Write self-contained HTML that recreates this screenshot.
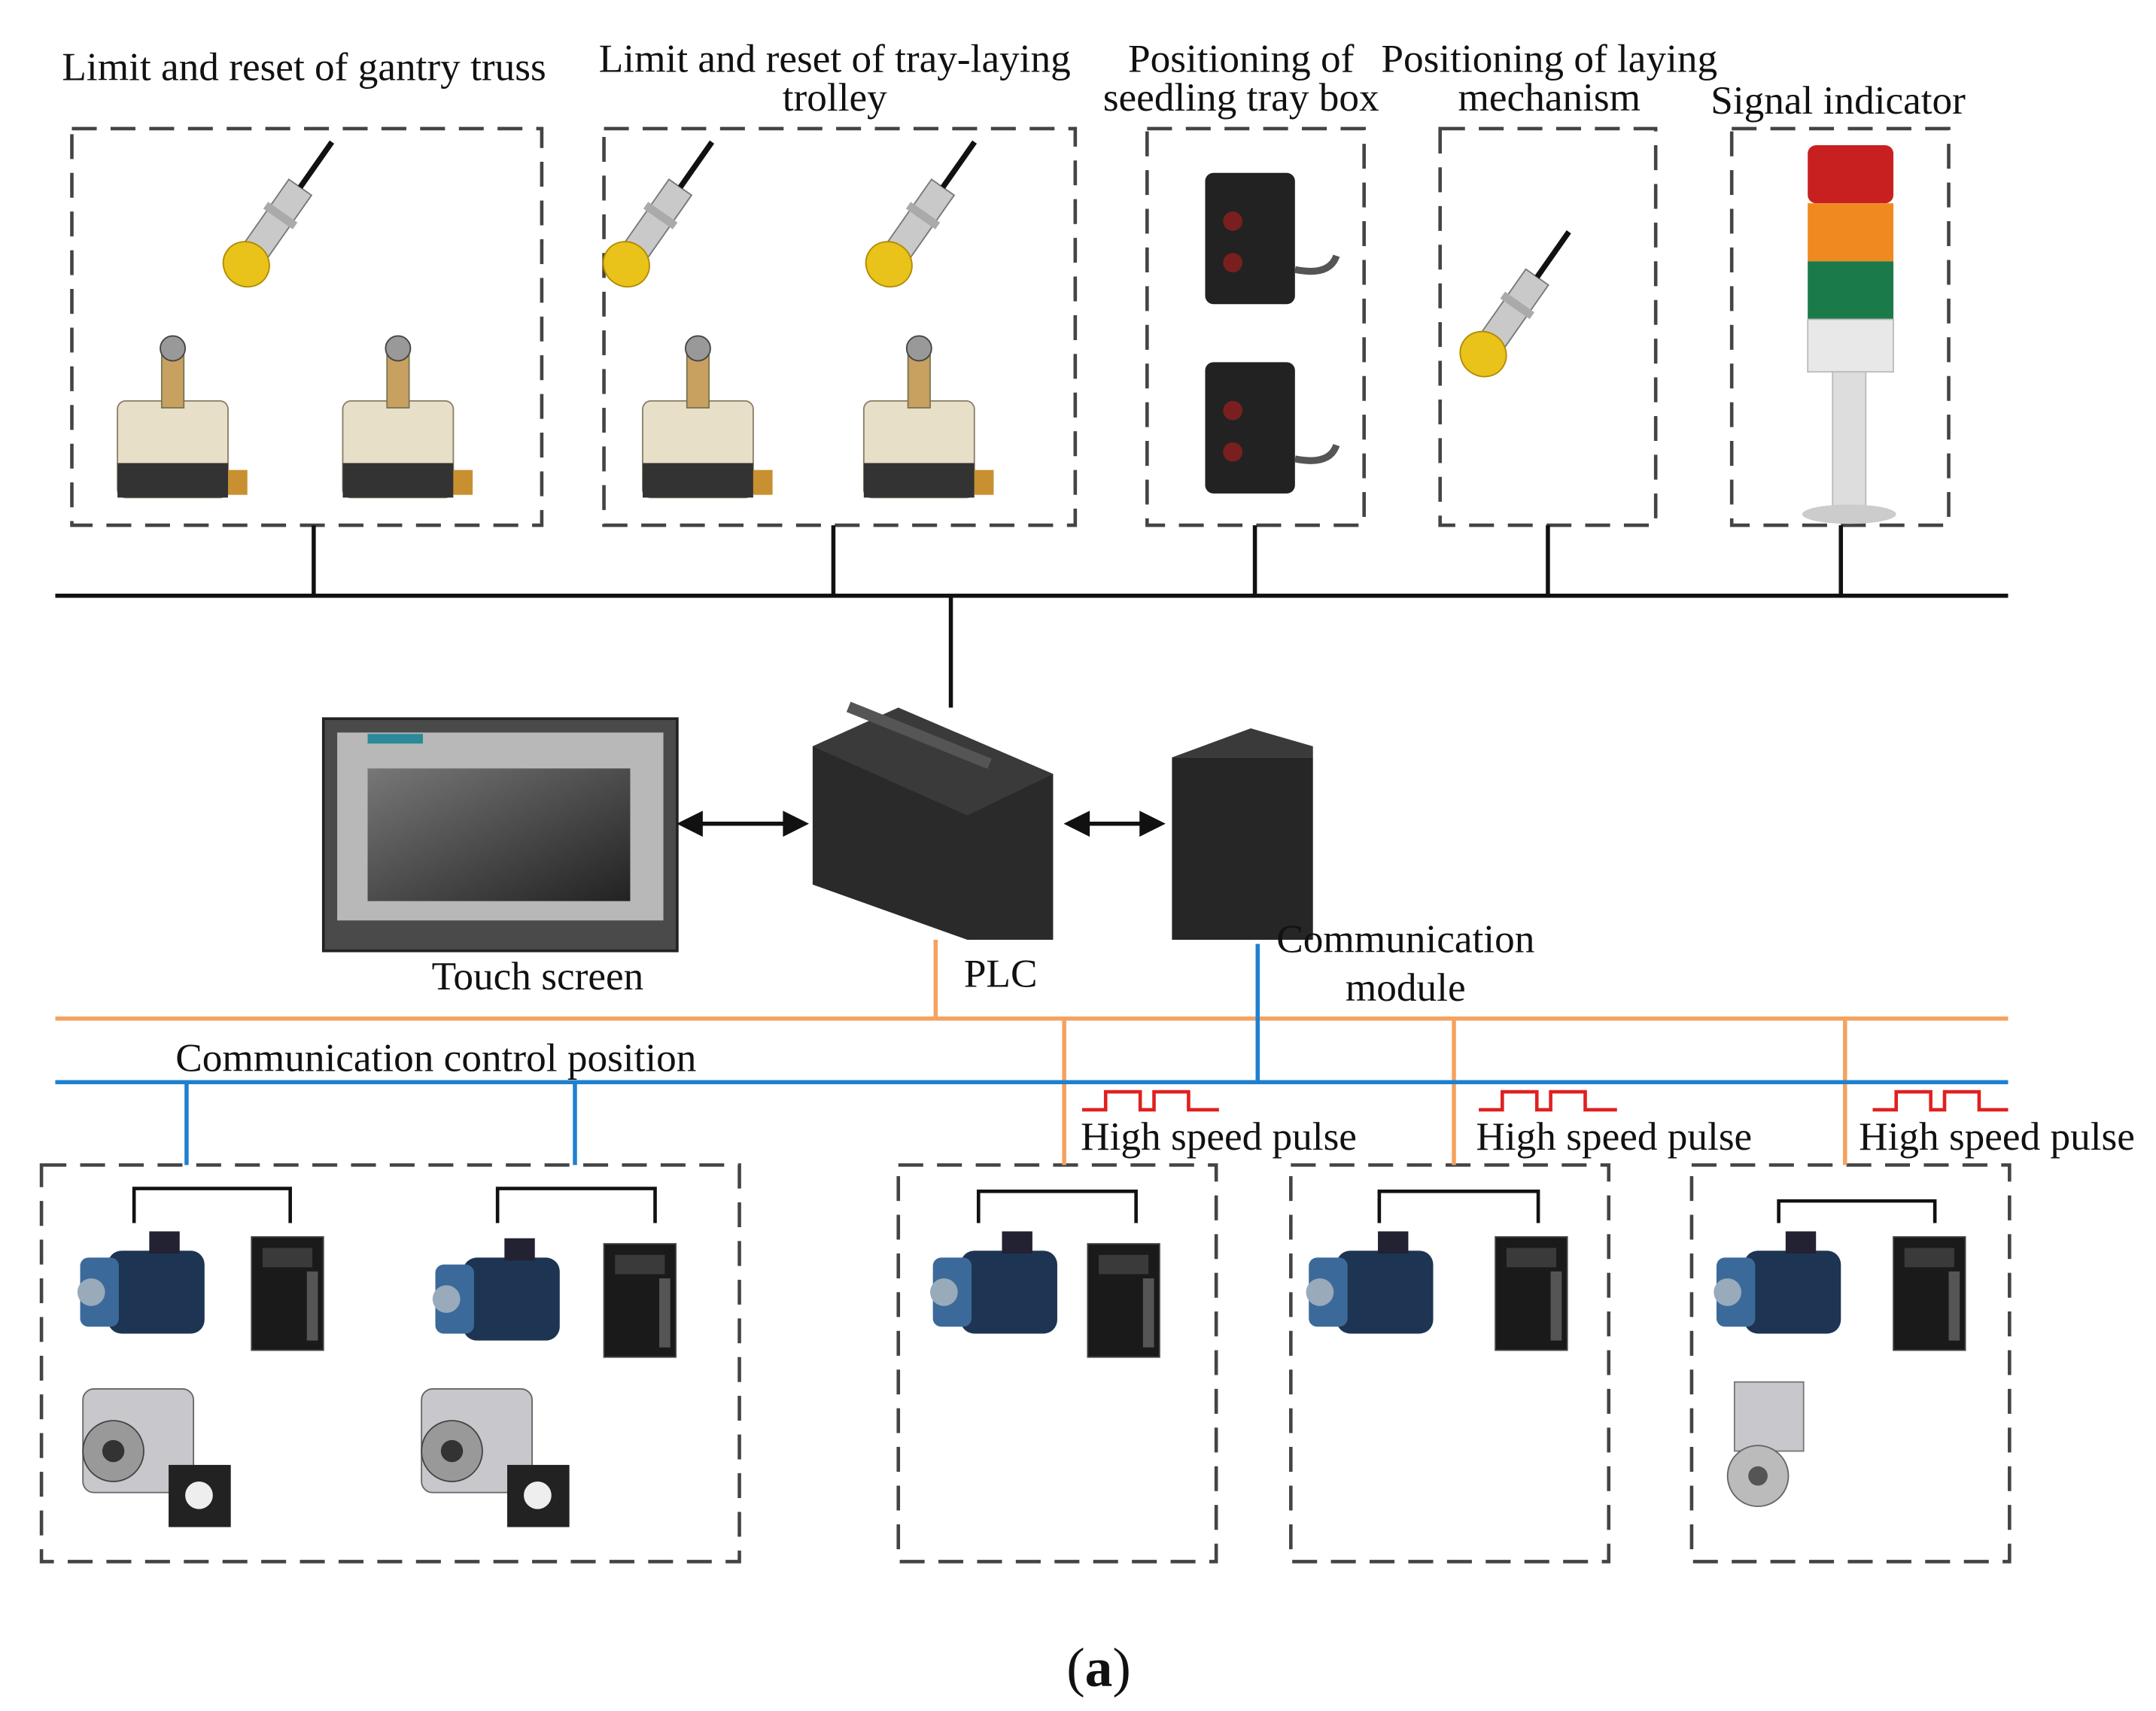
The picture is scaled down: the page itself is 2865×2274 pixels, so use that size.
<!DOCTYPE html>
<html><head><meta charset="utf-8">
<style>
html,body{margin:0;padding:0;background:#fff;}
svg{display:block;}
text{font-family:"Liberation Serif",serif;fill:#111;}
</style></head><body>
<svg width="2865" height="2274" viewBox="0 0 1560 1238" xmlns="http://www.w3.org/2000/svg">
<defs>
<g id="prox">
 <rect x="-10" y="-30" width="20" height="60" fill="#c9c9c9" stroke="#777"/>
 <rect x="-13" y="-8" width="26" height="6" fill="#aaa"/>
 <ellipse cx="0" cy="38" rx="17" ry="16" fill="#e9c21a" stroke="#b08a00"/>
 <line x1="0" y1="-30" x2="0" y2="-70" stroke="#111" stroke-width="4"/>
</g>
<g id="limit">
 <rect x="-40" y="0" width="80" height="70" rx="6" fill="#e8dfc8" stroke="#8a7f66"/>
 <rect x="-40" y="45" width="80" height="25" fill="#333"/>
 <rect x="-8" y="-35" width="16" height="40" fill="#c8a060" stroke="#775"/>
 <circle cx="0" cy="-38" r="9" fill="#999" stroke="#444"/>
 <rect x="40" y="50" width="14" height="18" fill="#c89030"/>
</g>
<g id="photo">
 <rect x="0" y="0" width="65" height="95" rx="6" fill="#222"/>
 <circle cx="20" cy="35" r="7" fill="#7a1f1f"/><circle cx="20" cy="65" r="7" fill="#7a1f1f"/>
 <path d="M65 70 q25 5 30 -10" stroke="#555" stroke-width="5" fill="none"/>
</g>
<g id="motor">
 <rect x="0" y="0" width="70" height="60" rx="10" fill="#1d3552"/>
 <rect x="-20" y="5" width="28" height="50" rx="6" fill="#3b6a9a"/>
 <circle cx="-12" cy="30" r="10" fill="#9ab"/>
 <rect x="30" y="-14" width="22" height="16" fill="#223"/>
</g>
<g id="driver">
 <rect x="0" y="0" width="52" height="82" fill="#1a1a1a" stroke="#444"/>
 <rect x="8" y="8" width="36" height="14" fill="#3a3a3a"/>
 <rect x="40" y="25" width="8" height="50" fill="#555"/>
</g>
<g id="gear">
 <rect x="0" y="0" width="80" height="75" rx="8" fill="#c8c8cc" stroke="#666"/>
 <circle cx="22" cy="45" r="22" fill="#999" stroke="#444"/>
 <circle cx="22" cy="45" r="8" fill="#333"/>
 <rect x="62" y="55" width="45" height="45" fill="#222"/>
 <circle cx="84" cy="77" r="10" fill="#eee"/>
</g>
</defs>

<g font-size="29" text-anchor="middle">
<text x="220" y="58">Limit and reset of gantry truss</text>
<text x="604" y="52">Limit and reset of tray-laying</text>
<text x="604" y="80">trolley</text>
<text x="898" y="52">Positioning of</text>
<text x="898" y="80">seedling tray box</text>
<text x="1121" y="52">Positioning of laying</text>
<text x="1121" y="80">mechanism</text>
<text x="1330" y="82">Signal indicator</text>
</g>

<g fill="none" stroke="#444" stroke-width="2.5" stroke-dasharray="18,10">
<rect x="52" y="93" width="340" height="287"/>
<rect x="437" y="93" width="341" height="287"/>
<rect x="830" y="93" width="157" height="287"/>
<rect x="1042" y="93" width="156" height="287"/>
<rect x="1253" y="93" width="157" height="287"/>
<rect x="30" y="843" width="505" height="287"/>
<rect x="650" y="843" width="230" height="287"/>
<rect x="934" y="843" width="230" height="287"/>
<rect x="1224" y="843" width="230" height="287"/>
</g>

<g transform="translate(200,160) rotate(35)"><use href="#prox"/></g>
<g transform="translate(475,160) rotate(35)"><use href="#prox"/></g>
<g transform="translate(665,160) rotate(35)"><use href="#prox"/></g>
<g transform="translate(1095,225) rotate(35)"><use href="#prox"/></g>
<g transform="translate(125,290)"><use href="#limit"/></g>
<g transform="translate(288,290)"><use href="#limit"/></g>
<g transform="translate(505,290)"><use href="#limit"/></g>
<g transform="translate(665,290)"><use href="#limit"/></g>
<g transform="translate(872,125)"><use href="#photo"/></g>
<g transform="translate(872,262)"><use href="#photo"/></g>
<rect x="1308" y="105" width="62" height="42" rx="6" fill="#c82020"/>
<rect x="1308" y="147" width="62" height="42" fill="#f08a20"/>
<rect x="1308" y="189" width="62" height="42" fill="#1a7a4a"/>
<rect x="1308" y="231" width="62" height="38" fill="#e8e8e8" stroke="#bbb"/>
<rect x="1326" y="269" width="24" height="100" fill="#ddd" stroke="#bbb"/>
<ellipse cx="1338" cy="372" rx="34" ry="7" fill="#ccc"/>

<g stroke="#111" stroke-width="3">
<line x1="40" y1="431" x2="1453" y2="431"/>
<line x1="227" y1="380" x2="227" y2="431"/>
<line x1="603" y1="380" x2="603" y2="431"/>
<line x1="908" y1="380" x2="908" y2="431"/>
<line x1="1120" y1="380" x2="1120" y2="431"/>
<line x1="1332" y1="380" x2="1332" y2="431"/>
<line x1="688" y1="431" x2="688" y2="512"/>
</g>

<rect x="234" y="520" width="256" height="168" fill="#4a4a4a" stroke="#222" stroke-width="2"/>
<rect x="244" y="530" width="236" height="136" fill="#b8b8b8"/>
<defs><linearGradient id="scr" x1="0" y1="0" x2="1" y2="1"><stop offset="0" stop-color="#777"/><stop offset="1" stop-color="#222"/></linearGradient></defs>
<rect x="266" y="556" width="190" height="96" fill="url(#scr)"/>
<rect x="266" y="531" width="40" height="7" fill="#2a8a9a"/>
<path d="M588 540 L650 512 L762 560 L762 680 L700 680 L588 640 Z" fill="#2a2a2a"/>
<path d="M588 540 L650 512 L762 560 L700 590 Z" fill="#3a3a3a"/>
<rect x="610" y="528" width="110" height="8" fill="#555" transform="rotate(22 665 532)"/>
<rect x="848" y="548" width="102" height="132" fill="#262626"/>
<path d="M848 548 L905 527 L950 540 L950 548 Z" fill="#3a3a3a"/>
<g stroke="#111" stroke-width="3" fill="#111">
<line x1="503" y1="596" x2="572" y2="596"/>
<path d="M493 596 L507 589 L507 603 Z"/><path d="M582 596 L568 589 L568 603 Z"/>
<line x1="783" y1="596" x2="830" y2="596"/>
<path d="M773 596 L787 589 L787 603 Z"/><path d="M840 596 L826 589 L826 603 Z"/>
</g>

<g font-size="29">
<text x="389" y="716" text-anchor="middle">Touch screen</text>
<text x="724" y="714" text-anchor="middle">PLC</text>
<text x="1017" y="689" text-anchor="middle">Communication</text>
<text x="1017" y="724" text-anchor="middle">module</text>
<text x="127" y="775">Communication control position</text>
<text x="782" y="832">High speed pulse</text>
<text x="1068" y="832">High speed pulse</text>
<text x="1345" y="832">High speed pulse</text>
</g>

<g stroke="#f5a25e" stroke-width="3">
<line x1="40" y1="737" x2="1453" y2="737"/>
<line x1="677" y1="680" x2="677" y2="737"/>
<line x1="770" y1="737" x2="770" y2="843"/>
<line x1="1052" y1="737" x2="1052" y2="843"/>
<line x1="1335" y1="737" x2="1335" y2="843"/>
</g>
<g stroke="#1f80cf" stroke-width="3">
<line x1="40" y1="783" x2="1453" y2="783"/>
<line x1="910" y1="683" x2="910" y2="783"/>
<line x1="135" y1="783" x2="135" y2="843"/>
<line x1="416" y1="783" x2="416" y2="843"/>
</g>
<g stroke="#e02020" stroke-width="2.5" fill="none">
<path d="M783 803 H800 V790 H825 V803 H835 V790 H860 V803 H882"/>
<path d="M1070 803 H1087 V790 H1112 V803 H1122 V790 H1147 V803 H1170"/>
<path d="M1355 803 H1372 V790 H1397 V803 H1407 V790 H1432 V803 H1453"/>
</g>

<g stroke="#111" stroke-width="2.5" fill="none">
<path d="M97 885 V860 H210 V885"/>
<path d="M360 885 V860 H474 V885"/>
<path d="M708 885 V862 H822 V885"/>
<path d="M998 885 V862 H1113 V885"/>
<path d="M1287 885 V869 H1400 V885"/>
</g>
<g transform="translate(78,905)"><use href="#motor"/></g>
<g transform="translate(182,895)"><use href="#driver"/></g>
<g transform="translate(335,910)"><use href="#motor"/></g>
<g transform="translate(437,900)"><use href="#driver"/></g>
<g transform="translate(695,905)"><use href="#motor"/></g>
<g transform="translate(787,900)"><use href="#driver"/></g>
<g transform="translate(967,905)"><use href="#motor"/></g>
<g transform="translate(1082,895)"><use href="#driver"/></g>
<g transform="translate(1262,905)"><use href="#motor"/></g>
<g transform="translate(1370,895)"><use href="#driver"/></g>
<g transform="translate(60,1005)"><use href="#gear"/></g>
<g transform="translate(305,1005)"><use href="#gear"/></g>
<rect x="1255" y="1000" width="50" height="50" fill="#c8c8cc" stroke="#777"/>
<circle cx="1272" cy="1068" r="22" fill="#bbb" stroke="#666"/>
<circle cx="1272" cy="1068" r="7" fill="#555"/>

<text x="795" y="1220" font-size="40" text-anchor="middle">(<tspan font-weight="bold">a</tspan>)</text>
</svg>
</body></html>
